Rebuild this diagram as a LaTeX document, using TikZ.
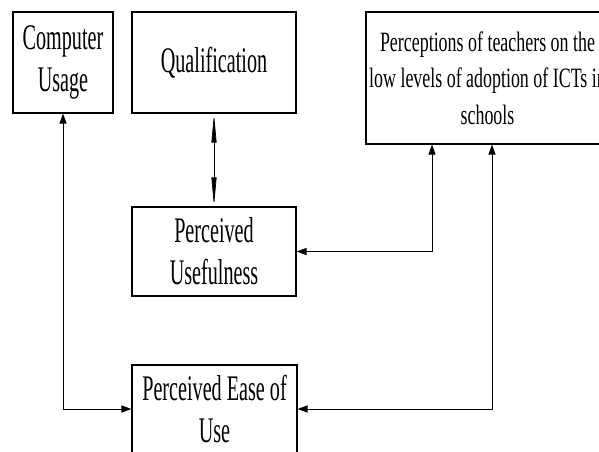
\documentclass[tikz,border=0pt]{standalone}
\usepackage{fontspec}
\setmainfont[FakeStretch=0.56]{Liberation Serif}
\newfontfamily\perfont[FakeStretch=0.64]{Liberation Serif}
\usetikzlibrary{arrows.meta}
\tikzset{
  box/.style={draw, line width=1.1pt, align=center, inner sep=0pt,
    font=\fontsize{36}{42}\selectfont},
  link/.style={line width=1pt, {Triangle[length=10pt,width=7pt]}-{Triangle[length=10pt,width=7pt]}},
  longlink/.style={line width=0.8pt, {Triangle[length=29pt,width=5pt]}-{Triangle[length=29pt,width=5pt]}}
}
\begin{document}
\begin{tikzpicture}[x=1pt,y=-1pt]
  \useasboundingbox (0,0) rectangle (599,451);
  \clip (0,0) rectangle (599,451);
  % factor boxes
  \node[box, minimum width=100pt, minimum height=101pt] (cu) at (63,62.5) {Computer\\Usage};
  \node[box, minimum width=164pt, minimum height=101pt] (q) at (214,62.5) {Qualification};
  \node[box, minimum width=243pt, minimum height=132pt,
        font=\perfont\fontsize{28}{36.5}\selectfont] (per) at (487.5,78)
        {Perceptions of teachers on the\\low levels of adoption of ICTs in\\schools};
  \node[box, minimum width=164pt, minimum height=89pt] (pu) at (214,251.5) {Perceived\\Usefulness};
  \node[box, minimum width=165pt, minimum height=88pt] (peu) at (214.5,409) {Perceived Ease of\\Use};
  % relationships
  \draw[longlink] (q.south) -- (pu.north);
  \draw[link] ([xshift=-55.5pt]per.south) |- (pu.east);
  \draw[link] ([xshift=4.5pt]per.south) |- (peu.east);
  \draw[link] (cu.south) |- (peu.west);
\end{tikzpicture}
\end{document}
